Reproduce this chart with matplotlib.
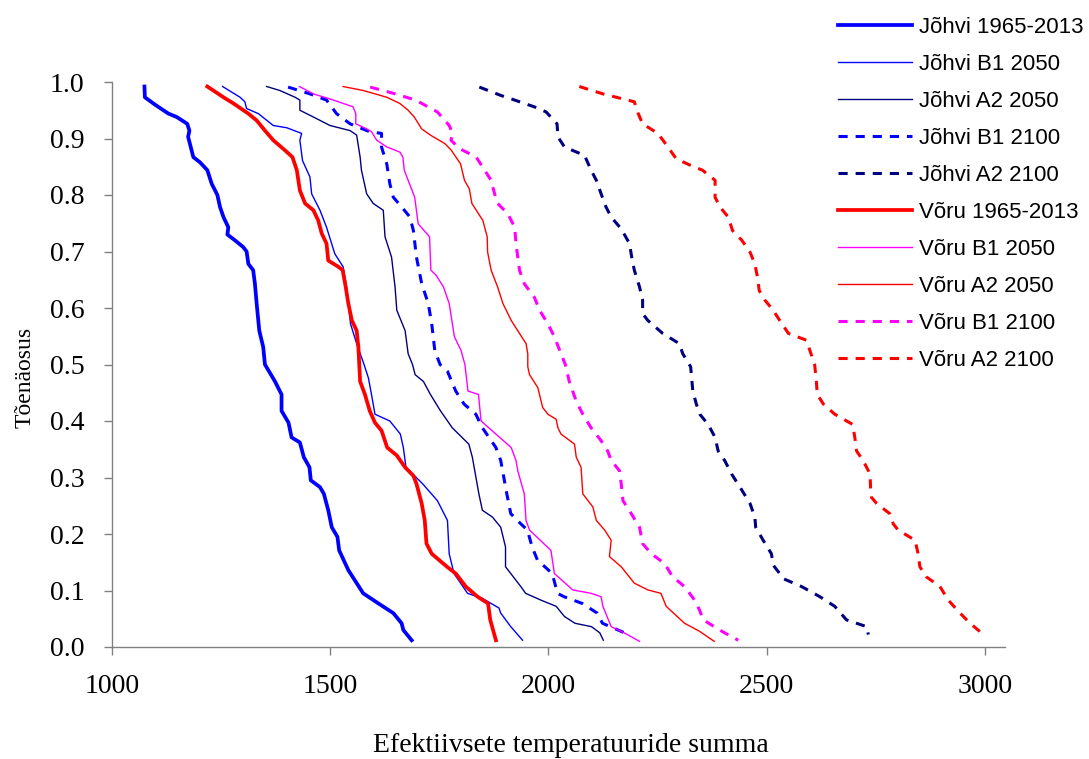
import matplotlib
matplotlib.use("Agg")
import matplotlib.pyplot as plt

# ---------------- data ----------------
j_obs_p = [0.992, 0.973, 0.96, 0.944, 0.938, 0.926, 0.914, 0.903, 0.867, 0.858, 0.844, 0.82, 0.80, 0.779, 0.761,
           0.743, 0.73, 0.72, 0.708, 0.70, 0.678, 0.667, 0.643, 0.608, 0.56, 0.531, 0.50, 0.47, 0.447, 0.418, 0.397,
           0.371, 0.362, 0.336, 0.318, 0.295, 0.283, 0.271, 0.242, 0.212, 0.195, 0.171, 0.136, 0.095, 0.077, 0.06,
           0.042, 0.03, 0.012]
j_obs_x = [1075, 1076, 1099, 1130, 1149, 1173, 1178, 1175, 1187, 1202, 1219, 1229, 1242, 1248, 1256,
           1267, 1265, 1282, 1301, 1309, 1313, 1324, 1328, 1332, 1338, 1347, 1351, 1374, 1389, 1389, 1405,
           1412, 1431, 1440, 1453, 1456, 1477, 1486, 1496, 1504, 1517, 1521, 1542, 1576, 1611, 1645,
           1664, 1668, 1687]

j_b1_50_p = [0.992, 0.973, 0.965, 0.953, 0.944, 0.923, 0.919, 0.909, 0.897, 0.861, 0.832, 0.802, 0.773, 0.743,
             0.696, 0.673, 0.637, 0.572, 0.537, 0.50, 0.476, 0.447, 0.412, 0.40, 0.377, 0.353, 0.318, 0.289,
             0.259, 0.224, 0.165, 0.13, 0.095, 0.086, 0.069, 0.06, 0.036, 0.012]
j_b1_50_x = [1254, 1294, 1305, 1309, 1336, 1370, 1401, 1435, 1431, 1437, 1454, 1458, 1477, 1492,
             1511, 1530, 1538, 1547, 1561, 1578, 1588, 1595, 1603, 1637, 1661, 1668, 1674, 1712,
             1746, 1769, 1773, 1784, 1815, 1849, 1887, 1891, 1914, 1941]

j_a2_50_p = [0.992, 0.985, 0.973, 0.968, 0.95, 0.938, 0.923, 0.914, 0.906, 0.867, 0.844, 0.802, 0.785, 0.773,
             0.726, 0.69, 0.637, 0.596, 0.56, 0.519, 0.50, 0.482, 0.47, 0.447, 0.418, 0.388, 0.359, 0.336,
             0.271, 0.242, 0.23, 0.212, 0.177, 0.142, 0.13, 0.107, 0.095, 0.083, 0.072, 0.054, 0.042, 0.036,
             0.025, 0.012]
j_a2_50_x = [1355, 1385, 1420, 1431, 1431, 1462, 1500, 1546, 1561, 1569, 1572, 1584, 1599, 1622,
             1626, 1641, 1649, 1653, 1672, 1679, 1689, 1695, 1714, 1730, 1753, 1780, 1818, 1826,
             1841, 1849, 1872, 1891, 1902, 1902, 1914, 1937, 1948, 1983, 2018, 2037, 2061, 2099,
             2118, 2126]

j_b1_100_p = [0.991, 0.979, 0.968, 0.944, 0.926, 0.912, 0.909, 0.885, 0.855, 0.82, 0.796, 0.779, 0.761, 0.737,
              0.69, 0.643, 0.608, 0.572, 0.525, 0.50, 0.488, 0.453, 0.43, 0.412, 0.388, 0.353, 0.33, 0.271,
              0.236, 0.218, 0.207, 0.177, 0.154, 0.13, 0.095, 0.089, 0.077, 0.06, 0.042, 0.025]
j_b1_100_x = [1404, 1454, 1492, 1515, 1546, 1591, 1618, 1618, 1630, 1637, 1645, 1664, 1683, 1691,
              1698, 1710, 1725, 1733, 1740, 1752, 1769, 1788, 1807, 1834, 1849, 1880, 1891, 1905,
              1914, 1937, 1952, 1963, 1975, 2009, 2021, 2036, 2078, 2112, 2124, 2175]

j_a2_100_p = [0.991, 0.976, 0.968, 0.956, 0.947, 0.926, 0.903, 0.885, 0.87, 0.844, 0.826, 0.802, 0.779, 0.761,
              0.74, 0.714, 0.69, 0.667, 0.637, 0.614, 0.59, 0.578, 0.555, 0.537, 0.519, 0.496, 0.453, 0.43,
              0.412, 0.394, 0.371, 0.347, 0.33, 0.306, 0.283, 0.254, 0.23, 0.212, 0.189, 0.165, 0.145, 0.13,
              0.121, 0.107, 0.089, 0.072, 0.048, 0.036, 0.022]
j_a2_100_x = [1842, 1892, 1923, 1968, 1995, 2020, 2022, 2037, 2083, 2098, 2110, 2121, 2132, 2144,
              2167, 2186, 2191, 2197, 2209, 2216, 2216, 2228, 2262, 2300, 2308, 2326, 2331, 2339,
              2347, 2366, 2382, 2389, 2404, 2420, 2439, 2462, 2473, 2475, 2492, 2511, 2515, 2530,
              2538, 2580, 2622, 2656, 2683, 2729, 2733]

v_obs_p = [0.992, 0.973, 0.962, 0.944, 0.932, 0.914, 0.897, 0.879, 0.867, 0.844, 0.808, 0.785, 0.773, 0.755,
           0.732, 0.714, 0.684, 0.673, 0.667, 0.637, 0.608, 0.578, 0.56, 0.531, 0.50, 0.47, 0.447, 0.418,
           0.397, 0.383, 0.353, 0.339, 0.318, 0.303, 0.289, 0.254, 0.224, 0.183, 0.165, 0.142, 0.13, 0.107,
           0.089, 0.077, 0.048, 0.012]
v_obs_x = [1219, 1256, 1279, 1313, 1332, 1351, 1370, 1397, 1414, 1424, 1431, 1443, 1462, 1473,
           1481, 1492, 1496, 1519, 1529, 1536, 1542, 1550, 1561, 1565, 1567, 1569, 1580, 1591,
           1603, 1618, 1631, 1653, 1672, 1691, 1698, 1710, 1717, 1721, 1733, 1768, 1788, 1811,
           1838, 1862, 1867, 1880]

v_b1_50_p = [0.992, 0.979, 0.968, 0.956, 0.944, 0.926, 0.917, 0.912, 0.897, 0.885, 0.876, 0.867, 0.844, 0.808,
             0.796, 0.749, 0.726, 0.667, 0.658, 0.637, 0.608, 0.549, 0.525, 0.50, 0.453, 0.447, 0.40, 0.353,
             0.33, 0.312, 0.271, 0.224, 0.207, 0.171, 0.13, 0.101, 0.095, 0.089, 0.072, 0.036, 0.025, 0.01]
v_b1_50_x = [1430, 1462, 1508, 1553, 1559, 1559, 1584, 1595, 1607, 1630, 1660, 1667, 1670, 1688,
             1694, 1702, 1728, 1731, 1743, 1760, 1773, 1785, 1800, 1809, 1816, 1840, 1846, 1915,
             1926, 1930, 1945, 1949, 1957, 2006, 2014, 2056, 2098, 2121, 2125, 2144, 2174, 2209]

v_a2_50_p = [0.992, 0.985, 0.973, 0.962, 0.95, 0.938, 0.917, 0.906, 0.891, 0.879, 0.855, 0.826, 0.811, 0.785,
             0.773, 0.755, 0.726, 0.699, 0.667, 0.637, 0.608, 0.578, 0.555, 0.537, 0.519, 0.496, 0.482, 0.459,
             0.424, 0.412, 0.403, 0.388, 0.377, 0.359, 0.336, 0.318, 0.271, 0.248, 0.224, 0.207, 0.189, 0.16,
             0.142, 0.113, 0.101, 0.095, 0.072, 0.042, 0.028, 0.01]
v_a2_50_x = [1530, 1576, 1630, 1660, 1679, 1693, 1710, 1730, 1763, 1778, 1799, 1808, 1819, 1825,
             1835, 1850, 1860, 1861, 1869, 1884, 1896, 1915, 1934, 1949, 1953, 1953, 1957, 1976,
             1987, 1999, 2018, 2022, 2029, 2060, 2064, 2075, 2079, 2102, 2110, 2129, 2144, 2140,
             2167, 2197, 2228, 2258, 2270, 2312, 2346, 2380]

v_b1_100_p = [0.991, 0.98, 0.968, 0.947, 0.923, 0.909, 0.897, 0.882, 0.867, 0.844, 0.826, 0.802, 0.785, 0.767,
              0.743, 0.714, 0.69, 0.667, 0.643, 0.619, 0.596, 0.572, 0.549, 0.519, 0.50, 0.47, 0.435, 0.412,
              0.388, 0.365, 0.347, 0.33, 0.312, 0.289, 0.259, 0.236, 0.212, 0.183, 0.165, 0.148, 0.124, 0.107,
              0.083, 0.066, 0.048, 0.028, 0.012]
v_b1_100_x = [1592, 1645, 1696, 1746, 1773, 1781, 1777, 1797, 1835, 1854, 1869, 1877, 1884, 1907,
              1923, 1926, 1930, 1934, 1945, 1968, 1980, 1999, 2014, 2029, 2039, 2048, 2064, 2079,
              2098, 2121, 2136, 2144, 2163, 2167, 2171, 2190, 2209, 2216, 2236, 2266, 2285, 2312,
              2335, 2346, 2355, 2397, 2435]

v_a2_100_p = [0.992, 0.979, 0.97, 0.965, 0.944, 0.926, 0.909, 0.885, 0.864, 0.85, 0.844, 0.826, 0.796, 0.779,
              0.761, 0.737, 0.72, 0.699, 0.678, 0.655, 0.631, 0.614, 0.596, 0.578, 0.555, 0.543, 0.525, 0.50,
              0.47, 0.447, 0.43, 0.412, 0.394, 0.371, 0.347, 0.33, 0.306, 0.283, 0.265, 0.254, 0.236, 0.218,
              0.207, 0.189, 0.165, 0.142, 0.124, 0.107, 0.083, 0.06, 0.042, 0.025]
v_a2_100_x = [2071, 2125, 2171, 2197, 2206, 2216, 2251, 2274, 2293, 2333, 2353, 2382, 2382, 2393,
              2412, 2422, 2443, 2462, 2473, 2479, 2483, 2496, 2515, 2530, 2550, 2591, 2599, 2610,
              2614, 2616, 2630, 2656, 2697, 2702, 2706, 2721, 2737, 2738, 2740, 2752, 2782, 2790,
              2801, 2840, 2847, 2851, 2866, 2897, 2916, 2943, 2966, 2992]

series_labels = ["Jõhvi 1965-2013", "Jõhvi B1 2050", "Jõhvi A2 2050", "Jõhvi B1 2100", "Jõhvi A2 2100",
                 "Võru 1965-2013", "Võru B1 2050", "Võru A2 2050", "Võru B1 2100", "Võru A2 2100"]
x_ticks = [1000, 1500, 2000, 2500, 3000]
y_ticks = [0.0, 0.1, 0.2, 0.3, 0.4, 0.5, 0.6, 0.7, 0.8, 0.9, 1.0]

# ---------------- styles ----------------
BLUE, NAVY, RED, MAG = "#0000FF", "#000080", "#FF0000", "#FF00FF"
DASH = (0, (3.0, 2.6))
styles = [
    dict(color=BLUE, lw=2.7, ls="-"),
    dict(color=BLUE, lw=1.0, ls="-"),
    dict(color=NAVY, lw=1.0, ls="-"),
    dict(color=BLUE, lw=2.2, ls=DASH),
    dict(color=NAVY, lw=2.2, ls=DASH),
    dict(color=RED, lw=2.7, ls="-"),
    dict(color=MAG, lw=1.0, ls="-"),
    dict(color=RED, lw=1.0, ls="-"),
    dict(color=MAG, lw=2.2, ls=DASH),
    dict(color=RED, lw=2.2, ls=DASH),
]
data = [
    (j_obs_x, j_obs_p), (j_b1_50_x, j_b1_50_p), (j_a2_50_x, j_a2_50_p),
    (j_b1_100_x, j_b1_100_p), (j_a2_100_x, j_a2_100_p),
    (v_obs_x, v_obs_p), (v_b1_50_x, v_b1_50_p), (v_a2_50_x, v_a2_50_p),
    (v_b1_100_x, v_b1_100_p), (v_a2_100_x, v_a2_100_p),
]

W, H = 1089, 759
fig = plt.figure(figsize=(W / 100, H / 100), dpi=100)
ax = fig.add_axes([111.7 / W, 1 - 647 / H, (1005 - 111.7) / W, (647 - 82) / H])

for (xs, ps), st, lab in zip(data, styles, series_labels):
    ax.plot(xs, ps, color=st["color"], lw=st["lw"], linestyle=st["ls"], label=lab,
            solid_joinstyle="round", dash_capstyle="butt")

GRAY = "#808080"
ax.set_xlim(1000, 3046)
ax.set_ylim(0, 1.0)
ax.set_xticks(x_ticks)
ax.set_yticks(y_ticks)
ax.set_xticklabels([str(v) for v in x_ticks])
ax.set_yticklabels([f"{v:.1f}" for v in y_ticks])
for s in ["top", "right"]:
    ax.spines[s].set_visible(False)
for s in ["left", "bottom"]:
    ax.spines[s].set_color(GRAY)
    ax.spines[s].set_linewidth(1.0)
ax.tick_params(direction="out", length=5.5, width=1.0, color=GRAY, pad=14,
               labelsize=20, labelcolor="black")
for lbl in ax.get_xticklabels() + ax.get_yticklabels():
    lbl.set_fontfamily("Liberation Serif")
ax.patch.set_visible(False)

fig.text(571 / W, 1 - 745 / H, "Efektiivsete temperatuuride summa", family="Liberation Serif",
         fontsize=20, ha="center", va="center")
fig.text(25 / W, 1 - 377 / H, "Tõenäosus", family="Liberation Serif", fontsize=17,
         rotation=90, ha="center", va="center")

leg = fig.legend(loc="upper left", bbox_to_anchor=(838 / W, 1 - 17 / H), frameon=False,
                 prop={"family": "Liberation Sans", "size": 16}, handlelength=3.35,
                 handletextpad=0.28, labelspacing=0.72, borderpad=0, borderaxespad=0)

fig.savefig("out.png", dpi=100)
